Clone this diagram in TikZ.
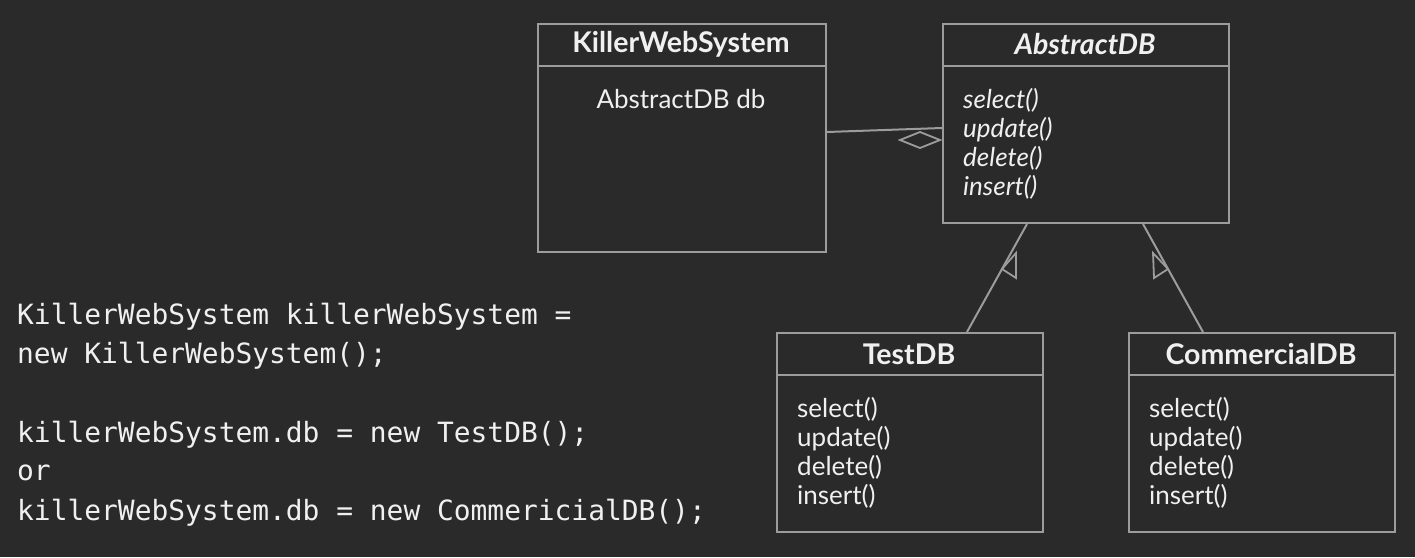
\documentclass[tikz,border=0pt]{standalone}
\usepackage{fontspec}
\setmainfont{Lato}
\setmonofont{DejaVu Sans Mono}
\definecolor{bg}{HTML}{2A2A2A}
\definecolor{ln}{HTML}{9C9C9C}
\definecolor{tx}{HTML}{F0F0F0}
\begin{document}
\begin{tikzpicture}[x=1pt,y=-1pt,
  cls/.style={draw=ln, line width=2pt, anchor=north west, inner sep=0pt},
  conn/.style={draw=ln, line width=2pt},
  head/.style={text=tx, font=\fontsize{28.5}{32}\selectfont\bfseries, inner sep=0pt},
  body/.style={text=tx, font=\fontsize{26}{29}\selectfont, inner sep=0pt},
  meth/.style={text=tx, font=\fontsize{26}{29}\selectfont, inner sep=0pt, anchor=north west, align=left},
  code/.style={text=tx, font=\fontsize{27.9}{39}\ttfamily, inner sep=0pt, anchor=west}]
\fill[bg] (0,0) rectangle (1415,557);
\useasboundingbox (0,0) rectangle (1415,557);
% boxes
\node[cls, minimum width=288pt, minimum height=228pt] (kws) at (537,23) {};
\node[cls, minimum width=286pt, minimum height=199pt] (adb) at (942,23) {};
\node[cls, minimum width=266pt, minimum height=199pt] (tdb) at (776,332) {};
\node[cls, minimum width=266pt, minimum height=199pt] (cdb) at (1128,332) {};
% dividers
\draw[conn] ([yshift=-43pt]kws.north west) -- ([yshift=-43pt]kws.north east);
\draw[conn] ([yshift=-43pt]adb.north west) -- ([yshift=-43pt]adb.north east);
\draw[conn] ([yshift=-43pt]tdb.north west) -- ([yshift=-43pt]tdb.north east);
\draw[conn] ([yshift=-43pt]cdb.north west) -- ([yshift=-43pt]cdb.north east);
% titles
\node[head] (kwst) at (681,44) {KillerWebSystem};
\node[head, font=\fontsize{28.5}{32}\selectfont\bfseries\itshape] (adbt) at (1085,44) {AbstractDB};
\node[head] (tdbt) at (909,354) {TestDB};
\node[head] (cdbt) at (1261,354) {CommercialDB};
% attributes / methods
\node[body] (kwsa) at (681,99) {AbstractDB db};
\node[meth, font=\fontsize{26}{29}\selectfont\itshape] (adbm) at (963,88) {select()\\update()\\delete()\\insert()};
\node[meth] (tdbm) at (797,397) {select()\\update()\\delete()\\insert()};
\node[meth] (cdbm) at (1149,397) {select()\\update()\\delete()\\insert()};
% aggregation
\draw[conn] ([yshift=-109pt]kws.north east) -- ([yshift=-105pt]adb.north west);
\draw[conn, line width=1.8pt] (900,140) -- (920,132) -- (940,140) -- (920,148) -- cycle;
% generalizations
\draw[conn] ([xshift=191pt]tdb.north west) -- ([xshift=85pt]adb.south west);
\draw[conn] ([xshift=75pt]cdb.north west) -- ([xshift=201pt]adb.south west);
\draw[conn, line width=1.8pt, line join=miter] (1016,253) -- (1002,269) -- (1016,278) -- cycle;
\draw[conn, line width=1.8pt, line join=miter] (1153,253) -- (1168,269) -- (1154,278) -- cycle;
% code
\node[code] (c1) at (17,317) {KillerWebSystem killerWebSystem =};
\node[code] (c2) at (17,356) {new KillerWebSystem();};
\node[code] (c3) at (17,435) {killerWebSystem.db = new TestDB();};
\node[code] (c4) at (17,473) {or};
\node[code] (c5) at (17,513) {killerWebSystem.db = new CommericialDB();};
\end{tikzpicture}
\end{document}
